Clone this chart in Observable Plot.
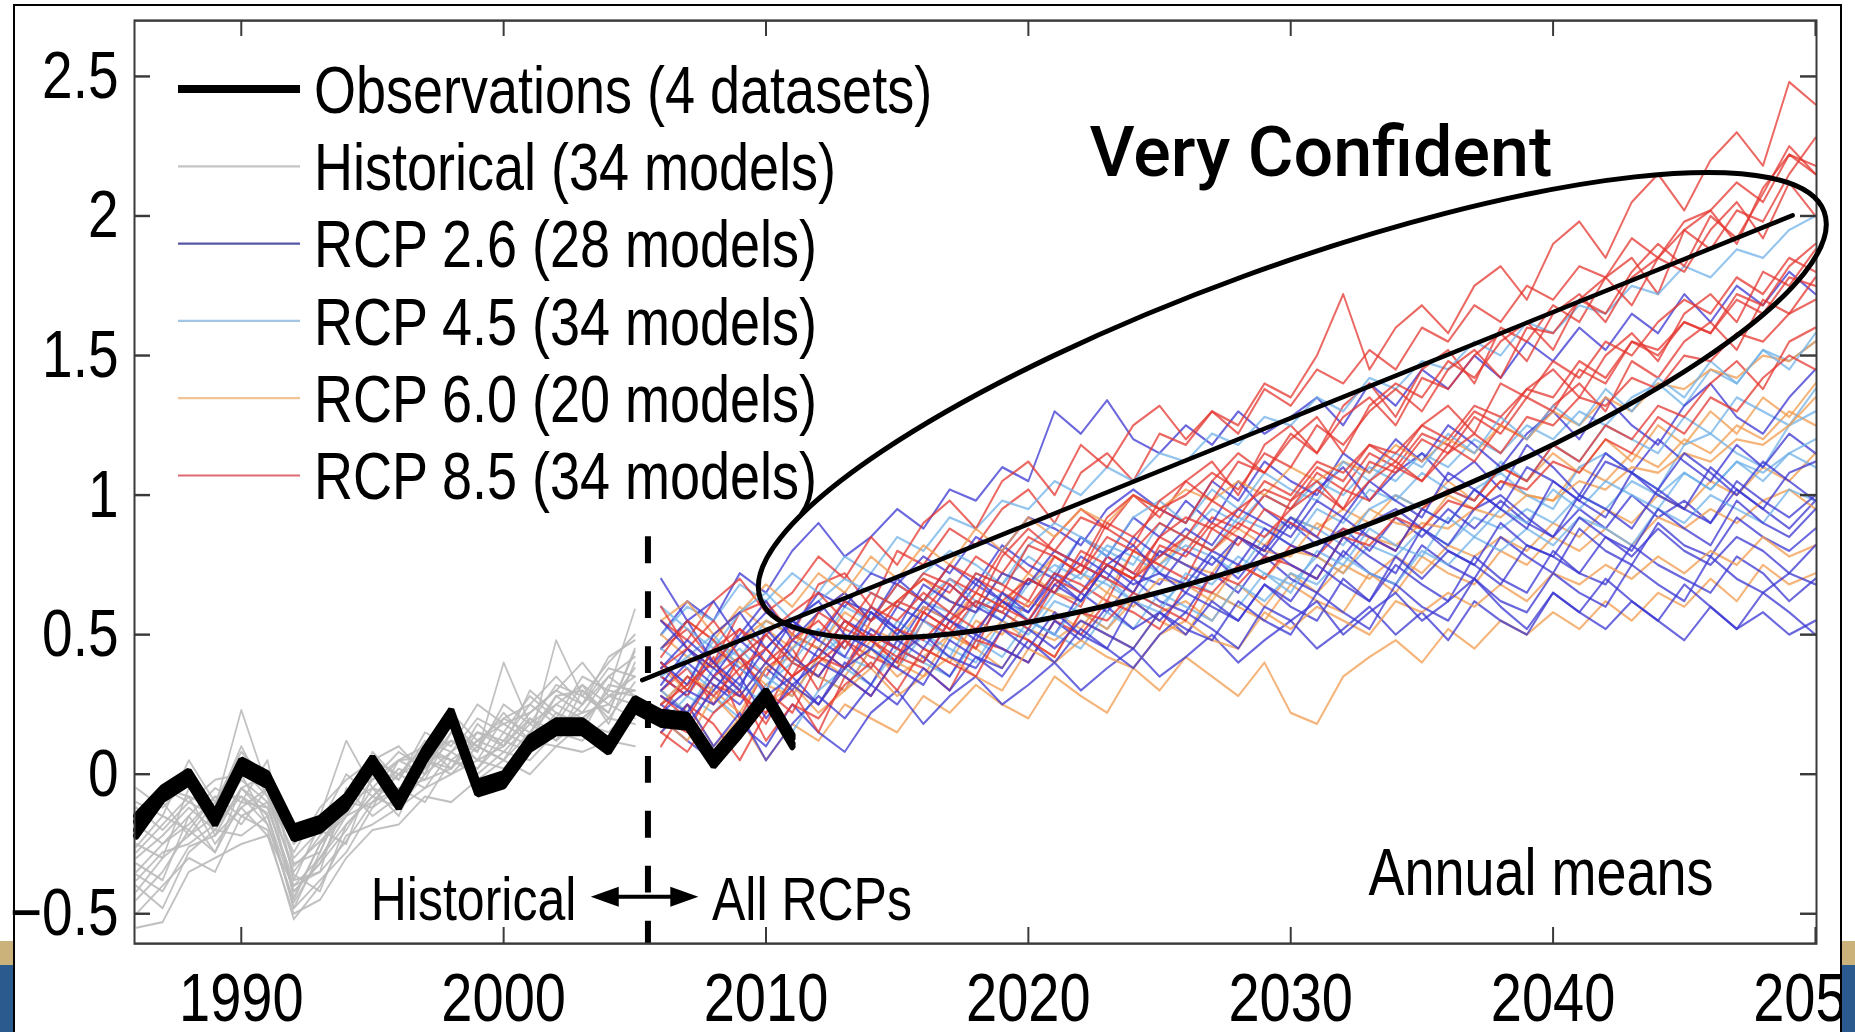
<!DOCTYPE html>
<html><head><meta charset="utf-8">
<script src="https://cdn.jsdelivr.net/npm/d3@7"></script>
<script src="https://cdn.jsdelivr.net/npm/@observablehq/plot@0.6"></script>
<style>
html,body{margin:0;padding:0;background:#fff;}
body{width:1855px;height:1032px;position:relative;overflow:hidden;font-family:"Liberation Sans",Arial,sans-serif;}
.band{position:absolute;}
#frame{position:absolute;left:13px;top:4px;width:1829px;height:1028px;background:#fff;box-sizing:border-box;border-left:2px solid #000;border-top:2px solid #000;border-right:2px solid #000;}
#chart{position:absolute;left:-15px;top:-6px;}
#overlay{position:absolute;left:0;top:0;pointer-events:none;}
</style></head><body>
<div class="band" style="left:0;top:941px;width:1855px;height:24px;background:#cbb27a"></div>
<div class="band" style="left:0;top:965px;width:1855px;height:67px;background:#2b5b8e"></div>
<div id="frame"><div id="chart"></div></div>
<div class="band" style="left:1842px;top:0;width:13px;height:941px;background:#fff"></div>
<div class="band" style="left:1842px;top:941px;width:13px;height:24px;background:#cbb27a"></div>
<div class="band" style="left:1842px;top:965px;width:13px;height:67px;background:#2b5b8e"></div>
<svg id="overlay" width="1855" height="1032"></svg>
<script>
// ---------- data ----------
const xTicks = [1990, 2000, 2010, 2020, 2030, 2040, 2050];
const yTicks = [-0.5, 0, 0.5, 1, 1.5, 2, 2.5];
const obsStart = 1986, histStart = 1986, rcpStart = 2006;

const obs = [
  [-0.20,-0.08,-0.02,-0.17,0.02,-0.03,-0.22,-0.19,-0.11,0.03,-0.11,0.06,0.20,-0.06,-0.03,0.10,0.16,0.16,0.09,0.24,0.19,0.18,0.04,0.15,0.27,0.11],
  [-0.17,-0.06,0.00,-0.15,0.04,-0.01,-0.20,-0.17,-0.09,0.05,-0.09,0.08,0.22,-0.04,-0.01,0.12,0.18,0.18,0.11,0.26,0.21,0.20,0.06,0.17,0.29,0.13],
  [-0.22,-0.09,-0.03,-0.18,0.01,-0.04,-0.23,-0.20,-0.12,0.02,-0.12,0.05,0.19,-0.07,-0.04,0.09,0.15,0.15,0.08,0.23,0.18,0.17,0.03,0.14,0.26,0.10],
  [-0.15,-0.05,0.01,-0.14,0.05,0.00,-0.19,-0.16,-0.08,0.06,-0.08,0.09,0.23,-0.03,0.00,0.13,0.19,0.19,0.12,0.27,0.22,0.21,0.07,0.18,0.30,0.14]
];

const historical = [
  [-0.30,-0.22,-0.12,-0.20,-0.05,-0.12,-0.40,-0.30,-0.18,-0.08,0.00,-0.05,0.08,0.02,0.15,0.10,0.22,0.18,0.30,0.28],
  [-0.15,-0.05,-0.10,-0.02,0.00,-0.18,-0.45,-0.25,-0.10,-0.12,0.05,0.10,0.02,0.15,0.12,0.25,0.18,0.32,0.25,0.38],
  [-0.45,-0.35,-0.20,-0.28,-0.10,0.05,-0.38,-0.35,-0.05,-0.15,-0.08,0.08,0.12,0.05,0.20,0.15,0.28,0.22,0.35,0.42],
  [-0.25,-0.30,-0.05,-0.12,0.23,-0.05,-0.30,-0.20,-0.25,0.00,-0.10,0.02,0.15,0.10,0.05,0.20,0.12,0.30,0.20,0.33],
  [-0.50,-0.40,-0.30,-0.35,-0.15,-0.20,-0.52,-0.40,-0.22,-0.18,-0.12,-0.05,0.00,0.05,0.02,0.12,0.10,0.18,0.15,0.25],
  [-0.10,-0.15,0.05,-0.10,0.08,-0.02,-0.25,-0.15,0.12,-0.05,0.05,0.00,0.18,0.08,0.40,0.18,0.25,0.20,0.28,0.30],
  [-0.35,-0.25,-0.18,-0.08,-0.15,-0.10,-0.42,-0.32,-0.20,-0.05,-0.15,0.05,0.02,0.18,0.10,0.22,0.30,0.25,0.38,0.35],
  [-0.20,-0.10,-0.22,-0.15,0.02,-0.08,-0.35,-0.22,-0.12,0.05,0.00,0.10,0.05,0.12,0.18,0.12,0.48,0.28,0.22,0.45],
  [-0.40,-0.48,-0.28,-0.20,-0.22,-0.15,-0.48,-0.38,-0.28,-0.12,-0.05,-0.10,0.05,0.00,0.08,0.05,0.15,0.12,0.20,0.18],
  [-0.05,-0.12,-0.02,-0.22,-0.05,0.00,-0.32,-0.28,-0.08,0.02,-0.02,0.12,0.08,0.20,0.15,0.28,0.20,0.35,0.30,0.59],
  [-0.28,-0.18,-0.08,-0.25,-0.12,-0.05,-0.44,-0.25,-0.15,-0.02,0.08,0.02,0.12,0.08,0.25,0.18,0.32,0.28,0.40,0.50],
  [-0.55,-0.53,-0.35,-0.30,-0.25,-0.22,-0.50,-0.45,-0.30,-0.20,-0.18,-0.08,-0.10,-0.02,0.05,0.00,0.10,0.08,0.12,0.10],
  [-0.18,-0.25,-0.15,-0.05,-0.10,-0.12,-0.38,-0.18,0.00,-0.08,0.02,-0.02,0.15,0.05,0.10,0.30,0.22,0.15,0.32,0.30],
  [-0.38,-0.28,-0.25,-0.18,-0.08,-0.18,-0.46,-0.30,-0.15,-0.10,0.00,0.05,0.00,0.10,0.05,0.15,0.25,0.32,0.18,0.40],
  [-0.22,-0.05,-0.08,-0.12,0.10,-0.08,-0.28,-0.12,-0.02,0.05,0.10,0.00,0.22,0.12,0.20,0.25,0.35,0.25,0.42,0.48],
  [-0.32,-0.38,-0.15,-0.28,-0.05,-0.15,-0.42,-0.32,-0.10,-0.05,-0.08,0.08,0.05,0.02,0.12,0.08,0.18,0.22,0.25,0.20],
  [-0.12,-0.20,-0.10,-0.15,-0.02,-0.10,-0.33,-0.24,-0.14,0.08,-0.02,0.15,0.10,0.25,0.18,0.22,0.30,0.40,0.28,0.35],
  [-0.42,-0.30,-0.22,-0.10,-0.18,-0.05,-0.36,-0.42,-0.18,-0.08,-0.12,0.00,0.08,0.15,0.10,0.20,0.15,0.25,0.35,0.28],
  [-0.26,-0.15,-0.20,-0.08,-0.08,-0.14,-0.48,-0.28,-0.06,-0.02,0.05,0.06,0.18,0.10,0.22,0.12,0.28,0.30,0.22,0.44],
  [-0.36,-0.42,-0.26,-0.22,-0.12,-0.22,-0.40,-0.35,-0.24,-0.10,-0.05,-0.02,0.02,0.12,0.08,0.18,0.12,0.20,0.28,0.25]
];

const rcp85 = [
  [0.45,0.52,0.40,0.58,0.62,0.50,0.68,0.72,0.60,0.80, 0.75,0.88,0.82,0.95,1.02,0.90,1.08,1.15,1.05,1.22, 1.18,1.30,1.25,1.40,1.35,1.50,1.72,1.45,1.60,1.68, 1.58,1.75,1.82,1.70,1.90,1.98,1.85,2.05,2.15,2.02, 2.20,2.30,2.18,2.48,2.40],
  [0.30,0.38,0.25,0.42,0.35,0.50,0.45,0.38,0.55,0.62, 0.58,0.70,0.65,0.80,0.72,0.85,0.95,0.88,1.00,0.92, 1.05,1.12,1.00,1.18,1.25,1.15,1.32,1.40,1.28,1.45, 1.52,1.40,1.60,1.55,1.68,1.62,1.78,1.85,1.72,1.95, 2.02,1.90,2.10,2.22,2.15],
  [0.20,0.15,0.32,0.28,0.22,0.40,0.35,0.48,0.42,0.38, 0.55,0.50,0.62,0.58,0.70,0.65,0.60,0.78,0.72,0.85, 0.80,0.92,0.88,1.00,0.95,1.08,1.02,1.15,1.10,1.22, 1.18,1.30,1.25,1.38,1.45,1.35,1.50,1.58,1.48,1.65, 1.72,1.62,1.80,1.75,1.88],
  [0.55,0.48,0.62,0.70,0.58,0.65,0.78,0.70,0.85,0.75, 0.90,0.98,0.88,1.05,1.12,1.00,1.18,1.10,1.25,1.32, 1.20,1.30,1.22,1.38,1.32,1.45,1.40,1.52,1.45,1.60, 1.55,1.68,1.62,1.75,1.70,1.82,1.78,1.92,1.85,1.98, 2.02,2.12,2.05,2.22,2.18],
  [0.35,0.28,0.42,0.20,0.38,0.45,0.30,0.52,0.48,0.40, 0.58,0.52,0.45,0.65,0.60,0.72,0.68,0.62,0.80,0.75, 0.70,0.88,0.82,0.95,0.90,0.85,1.02,0.98,1.10,1.05, 1.18,1.12,1.25,1.20,1.32,1.40,1.30,1.48,1.42,1.55, 1.62,1.52,1.70,1.65,1.78],
  [0.10,0.25,0.18,0.05,0.22,0.30,0.15,0.35,0.28,0.42, 0.38,0.30,0.48,0.45,0.40,0.55,0.50,0.62,0.58,0.52, 0.68,0.65,0.75,0.70,0.82,0.78,0.88,0.85,0.80,0.95, 1.02,0.98,1.10,1.05,1.18,1.12,1.25,1.20,1.32,1.28, 1.40,1.48,1.38,1.55,1.60],
  [0.42,0.55,0.48,0.35,0.50,0.58,0.65,0.55,0.48,0.62, 0.70,0.65,0.78,0.72,0.85,0.80,0.92,0.88,0.82,0.98, 1.05,0.98,1.12,1.08,1.20,1.28,1.15,1.32,1.40,1.35, 1.48,1.42,1.55,1.62,1.52,1.70,1.78,1.68,1.85,1.80, 1.95,2.05,1.92,2.12,2.00],
  [0.25,0.32,0.40,0.30,0.18,0.35,0.42,0.38,0.50,0.45, 0.40,0.55,0.62,0.58,0.52,0.68,0.75,0.70,0.65,0.82, 0.78,0.90,0.85,0.80,0.98,1.05,0.95,1.12,1.08,1.20, 1.15,1.28,1.22,1.35,1.30,1.45,1.40,1.55,1.50,1.62, 1.58,1.72,1.68,1.82,1.90],
  [0.60,0.45,0.38,0.52,0.45,0.35,0.50,0.62,0.55,0.68, 0.62,0.75,0.70,0.65,0.82,0.78,0.72,0.90,0.85,0.95, 1.00,1.08,1.02,1.15,1.10,1.25,1.18,1.30,1.38,1.30, 1.45,1.52,1.42,1.60,1.58,1.70,1.65,1.80,1.90,1.82, 2.00,1.92,2.08,2.25,2.15],
  [0.15,0.08,0.22,0.30,0.12,0.25,0.20,0.32,0.40,0.30, 0.45,0.40,0.35,0.52,0.48,0.42,0.58,0.55,0.65,0.60, 0.55,0.72,0.68,0.78,0.75,0.70,0.85,0.82,0.92,0.88, 0.98,0.95,1.05,1.02,1.12,1.08,1.20,1.15,1.28,1.22, 1.35,1.30,1.42,1.50,1.45],
  [0.38,0.45,0.55,0.42,0.50,0.40,0.58,0.52,0.65,0.60, 0.72,0.68,0.60,0.78,0.88,0.80,0.75,0.92,1.00,0.95, 0.90,1.05,1.15,1.08,1.22,1.15,1.28,1.35,1.25,1.42, 1.38,1.50,1.58,1.48,1.65,1.72,1.62,1.78,1.85,1.95, 1.88,2.02,1.98,2.15,2.28],
  [0.28,0.20,0.35,0.42,0.30,0.22,0.40,0.48,0.38,0.52, 0.48,0.58,0.52,0.62,0.70,0.65,0.80,0.75,0.70,0.85, 0.92,0.88,0.95,1.02,0.98,1.10,1.05,1.18,1.12,1.25, 1.32,1.22,1.40,1.35,1.48,1.42,1.55,1.50,1.62,1.70, 1.65,1.78,1.72,1.85,1.80],
  [0.40,0.30,0.45,0.52,0.40,0.48,0.55,0.45,0.60,0.55, 0.65,0.58,0.72,0.68,0.62,0.78,0.72,0.85,0.80,0.90, 0.85,0.98,0.92,1.05,1.00,1.12,1.08,1.18,1.15,1.25, 1.20,1.32,1.28,1.38,1.35,1.48,1.42,1.55,1.52,1.62, 1.58,1.70,1.65,1.78,1.75],
  [0.22,0.35,0.28,0.38,0.45,0.35,0.42,0.55,0.48,0.42, 0.58,0.52,0.65,0.60,0.55,0.70,0.65,0.75,0.70,0.78, 0.85,0.80,0.90,0.85,0.95,1.02,0.95,1.05,1.12,1.05, 1.15,1.22,1.15,1.28,1.25,1.35,1.32,1.42,1.38,1.50, 1.48,1.58,1.55,1.65,1.70]
];

const rcp26 = [
  [0.50,0.62,0.55,0.72,0.65,0.80,0.90,0.78,0.85,0.95, 0.88,1.02,0.98,1.10,1.05,1.30,1.22,1.34,1.20,1.15, 1.25,1.18,1.30,1.22,1.28,1.35,1.25,1.40,1.32,1.45, 1.38,1.50,1.42,1.55,1.48,1.60,1.52,1.65,1.58,1.72, 1.62,1.75,1.68,1.80,1.72],
  [0.35,0.28,0.45,0.38,0.30,0.48,0.42,0.55,0.50,0.45, 0.60,0.55,0.68,0.62,0.58,0.72,0.65,0.78,0.72,0.68, 0.80,0.75,0.85,0.78,0.90,0.82,0.88,0.80,0.92,0.85, 0.95,0.88,0.98,0.90,0.85,0.95,0.88,1.00,0.92,0.98, 0.90,1.02,0.95,0.88,0.98],
  [0.20,0.12,0.05,0.18,0.10,0.25,0.15,0.08,0.22,0.30, 0.18,0.28,0.35,0.25,0.32,0.40,0.30,0.38,0.45,0.35, 0.42,0.50,0.40,0.48,0.55,0.45,0.52,0.60,0.50,0.58, 0.48,0.62,0.55,0.50,0.65,0.58,0.52,0.62,0.55,0.68, 0.60,0.52,0.65,0.58,0.50],
  [0.45,0.55,0.40,0.50,0.62,0.48,0.58,0.65,0.55,0.70, 0.62,0.75,0.68,0.82,0.75,0.70,0.85,0.78,0.92,0.85, 0.98,0.90,1.05,0.95,0.88,1.02,1.10,0.98,1.08,1.15, 1.05,1.12,1.02,1.18,1.10,1.00,1.15,1.08,1.20,1.12, 1.05,1.18,1.10,1.22,1.15],
  [0.30,0.40,0.32,0.25,0.38,0.30,0.45,0.38,0.52,0.45, 0.40,0.55,0.48,0.62,0.55,0.50,0.65,0.58,0.70,0.62, 0.58,0.72,0.65,0.78,0.70,0.65,0.80,0.72,0.68,0.82, 0.75,0.70,0.85,0.78,0.72,0.88,0.80,0.75,0.90,0.82, 0.78,0.92,0.85,0.80,0.88],
  [0.70,0.55,0.62,0.48,0.58,0.52,0.65,0.60,0.72,0.68, 0.78,0.72,0.85,0.80,0.92,0.88,0.82,0.95,1.02,0.95, 0.90,1.05,0.98,1.12,1.05,1.00,1.15,1.08,1.20,1.12, 1.25,1.18,1.10,1.22,1.30,1.20,1.35,1.25,1.18,1.32, 1.40,1.28,1.22,1.35,1.45],
  [0.25,0.18,0.30,0.42,0.28,0.35,0.25,0.40,0.32,0.48, 0.42,0.35,0.50,0.45,0.40,0.55,0.48,0.60,0.52,0.58, 0.50,0.62,0.55,0.68,0.60,0.55,0.70,0.62,0.75,0.68, 0.62,0.78,0.70,0.65,0.80,0.72,0.68,0.82,0.75,0.70, 0.65,0.78,0.72,0.62,0.70],
  [0.40,0.32,0.50,0.58,0.45,0.55,0.48,0.62,0.58,0.52, 0.68,0.62,0.58,0.72,0.68,0.80,0.75,0.70,0.85,0.78, 0.88,0.82,0.95,0.90,0.85,0.98,0.92,1.05,0.98,0.92, 1.08,1.02,0.95,1.10,1.05,0.98,1.12,1.08,1.02,1.15, 1.08,1.00,1.12,1.05,0.98],
  [0.15,0.25,0.10,0.22,0.05,0.18,0.28,0.20,0.32,0.25, 0.38,0.30,0.42,0.35,0.48,0.40,0.52,0.45,0.38,0.50, 0.58,0.52,0.45,0.60,0.55,0.62,0.50,0.58,0.65,0.55, 0.62,0.70,0.60,0.52,0.65,0.58,0.70,0.62,0.55,0.48, 0.60,0.52,0.58,0.50,0.55],
  [0.55,0.45,0.35,0.48,0.40,0.55,0.62,0.50,0.45,0.60, 0.55,0.68,0.60,0.55,0.70,0.65,0.78,0.72,0.65,0.80, 0.75,0.70,0.85,0.80,0.92,0.85,0.78,0.90,0.95,0.88, 0.82,0.95,1.00,0.92,0.85,1.00,0.95,0.88,1.02,0.95, 0.90,1.05,0.98,0.92,1.00],
  [0.32,0.45,0.38,0.30,0.52,0.42,0.35,0.48,0.60,0.52, 0.45,0.58,0.70,0.62,0.55,0.68,0.62,0.75,0.82,0.72, 0.68,0.80,0.75,0.88,0.82,0.78,0.92,0.85,0.80,0.95, 0.90,1.02,0.95,0.88,1.05,0.98,0.92,1.08,1.00,0.95, 1.10,1.02,0.95,1.08,1.12],
  [0.22,0.30,0.25,0.35,0.20,0.32,0.40,0.35,0.28,0.42, 0.50,0.42,0.38,0.52,0.45,0.58,0.50,0.45,0.62,0.55, 0.65,0.60,0.55,0.68,0.62,0.75,0.68,0.62,0.78,0.70, 0.80,0.75,0.68,0.82,0.78,0.72,0.85,0.78,0.88,0.80, 0.75,0.85,0.80,0.72,0.82],
  [0.38,0.48,0.40,0.32,0.45,0.55,0.48,0.42,0.58,0.50, 0.62,0.55,0.50,0.65,0.58,0.70,0.62,0.75,0.68,0.72, 0.65,0.78,0.70,0.82,0.75,0.70,0.85,0.78,0.72,0.88, 0.80,0.75,0.90,0.82,0.78,0.92,0.85,0.80,0.95,0.88, 0.82,0.98,0.90,0.85,0.95],
  [0.28,0.22,0.35,0.28,0.40,0.32,0.25,0.38,0.45,0.38, 0.32,0.48,0.42,0.38,0.52,0.45,0.55,0.50,0.45,0.58, 0.52,0.48,0.62,0.55,0.50,0.65,0.58,0.52,0.68,0.60, 0.55,0.70,0.62,0.58,0.72,0.65,0.60,0.75,0.68,0.62, 0.78,0.70,0.65,0.72,0.68]
];

const rcp45 = [
  [0.40,0.32,0.48,0.42,0.55,0.50,0.45,0.60,0.55,0.68, 0.62,0.58,0.72,0.68,0.78,0.72,0.85,0.80,0.75,0.90, 0.85,0.95,0.90,1.00,0.95,1.05,1.00,1.10,1.05,1.15, 1.10,1.20,1.15,1.25,1.20,1.30,1.25,1.35,1.40,1.32, 1.45,1.40,1.52,1.48,1.55],
  [0.25,0.35,0.28,0.20,0.32,0.40,0.35,0.30,0.45,0.38, 0.50,0.45,0.40,0.55,0.50,0.62,0.58,0.52,0.65,0.60, 0.70,0.65,0.60,0.72,0.68,0.78,0.72,0.82,0.78,0.88, 0.82,0.92,0.88,0.95,0.90,1.00,0.95,1.05,1.00,1.08, 1.02,1.12,1.08,1.15,1.10],
  [0.50,0.60,0.55,0.68,0.62,0.72,0.65,0.78,0.72,0.85, 0.80,0.92,0.88,0.98,0.95,1.05,1.00,1.10,1.05,1.15, 1.12,1.22,1.18,1.28,1.25,1.35,1.30,1.42,1.38,1.48, 1.45,1.55,1.50,1.62,1.58,1.68,1.65,1.75,1.72,1.82, 1.78,1.88,1.85,1.95,2.00],
  [0.30,0.22,0.38,0.45,0.35,0.28,0.42,0.50,0.45,0.40, 0.55,0.48,0.62,0.58,0.52,0.65,0.72,0.68,0.62,0.75, 0.82,0.78,0.72,0.85,0.92,0.88,0.82,0.95,1.00,0.95, 0.90,1.02,1.08,1.00,0.95,1.10,1.15,1.08,1.02,1.18, 1.22,1.15,1.10,1.25,1.30],
  [0.45,0.38,0.30,0.42,0.50,0.40,0.52,0.45,0.58,0.50, 0.62,0.70,0.62,0.55,0.68,0.75,0.70,0.82,0.78,0.72, 0.85,0.80,0.92,0.88,0.82,0.95,0.90,1.02,0.98,1.08, 1.02,0.98,1.12,1.05,1.18,1.12,1.25,1.20,1.15,1.28, 1.22,1.35,1.30,1.25,1.38],
  [0.18,0.28,0.22,0.32,0.25,0.15,0.30,0.38,0.32,0.45, 0.40,0.35,0.48,0.42,0.55,0.50,0.45,0.58,0.52,0.65, 0.60,0.55,0.68,0.62,0.72,0.68,0.78,0.72,0.68,0.80, 0.75,0.85,0.80,0.88,0.82,0.92,0.88,0.82,0.95,0.90, 1.00,0.95,0.90,1.02,0.98],
  [0.60,0.52,0.45,0.58,0.65,0.55,0.62,0.70,0.65,0.60, 0.72,0.80,0.75,0.68,0.82,0.90,0.85,0.78,0.92,0.98, 0.90,1.02,0.95,1.08,1.02,0.98,1.12,1.05,1.15,1.10, 1.22,1.15,1.28,1.20,1.32,1.25,1.38,1.30,1.42,1.35, 1.48,1.40,1.52,1.45,1.58],
  [0.35,0.42,0.50,0.38,0.30,0.45,0.52,0.42,0.38,0.55, 0.48,0.42,0.58,0.65,0.55,0.50,0.62,0.70,0.62,0.58, 0.72,0.68,0.78,0.72,0.65,0.80,0.75,0.88,0.82,0.78, 0.92,0.85,0.95,0.90,1.02,0.95,1.05,1.00,0.95,1.08, 1.02,1.12,1.05,1.15,1.20]
];

const rcp60 = [
  [0.30,0.22,0.35,0.28,0.40,0.32,0.25,0.38,0.45,0.35, 0.42,0.50,0.45,0.38,0.52,0.48,0.55,0.50,0.45,0.58, 0.62,0.55,0.68,0.60,0.72,0.65,0.75,0.70,0.78,0.72, 0.82,0.78,0.85,0.80,0.90,0.85,0.95,0.90,1.00,0.95, 1.05,1.00,1.10,1.05,1.15],
  [0.45,0.55,0.48,0.60,0.52,0.45,0.58,0.65,0.55,0.62, 0.70,0.62,0.58,0.72,0.68,0.78,0.72,0.65,0.80,0.75, 0.85,0.80,0.88,0.82,0.92,0.88,0.95,0.90,1.00,0.95, 1.05,0.98,1.10,1.05,1.15,1.08,1.20,1.12,1.25,1.18, 1.30,1.22,1.35,1.28,1.40],
  [0.15,0.25,0.10,0.20,0.05,0.18,0.12,0.25,0.20,0.15, 0.28,0.22,0.32,0.25,0.20,0.35,0.28,0.22,0.38,0.30, 0.42,0.35,0.28,0.40,0.22,0.18,0.35,0.42,0.48,0.40, 0.52,0.45,0.55,0.50,0.58,0.52,0.62,0.55,0.65,0.60, 0.70,0.62,0.75,0.68,0.72],
  [0.50,0.42,0.38,0.48,0.55,0.50,0.45,0.58,0.52,0.48, 0.60,0.55,0.65,0.60,0.72,0.65,0.62,0.75,0.70,0.80, 0.75,0.72,0.85,0.80,0.78,0.90,0.85,0.95,0.90,0.88, 1.00,0.95,1.05,1.00,0.98,1.10,1.05,1.15,1.10,1.20, 1.15,1.25,1.20,1.30,1.25],
  [0.38,0.30,0.45,0.40,0.32,0.28,0.42,0.35,0.48,0.40, 0.35,0.50,0.45,0.55,0.48,0.42,0.58,0.52,0.62,0.55, 0.50,0.65,0.60,0.55,0.68,0.62,0.58,0.72,0.65,0.78, 0.72,0.68,0.80,0.75,0.85,0.80,0.88,0.82,0.92,0.88, 0.95,0.90,0.98,1.02,0.95],
  [0.25,0.35,0.30,0.22,0.38,0.42,0.35,0.30,0.45,0.52, 0.45,0.40,0.55,0.50,0.62,0.58,0.52,0.65,0.60,0.70, 0.68,0.62,0.75,0.70,0.80,0.78,0.72,0.85,0.82,0.90, 0.88,0.95,0.92,1.00,0.98,1.05,1.02,1.10,1.08,1.15, 1.12,1.20,1.18,1.25,1.35],
  [0.55,0.62,0.50,0.58,0.68,0.60,0.72,0.65,0.78,0.70, 0.82,0.75,0.88,0.80,0.92,0.85,0.95,0.90,1.00,0.95, 1.02,0.98,1.05,1.00,1.10,1.05,1.12,1.08,1.18,1.12, 1.20,1.15,1.25,1.20,1.30,1.25,1.35,1.30,1.40,1.38, 1.45,1.42,1.50,1.48,1.55],
  [0.20,0.12,0.28,0.18,0.25,0.32,0.22,0.30,0.38,0.28, 0.35,0.42,0.35,0.30,0.45,0.40,0.48,0.42,0.38,0.50, 0.55,0.48,0.45,0.58,0.52,0.60,0.55,0.50,0.62,0.58, 0.65,0.60,0.68,0.62,0.72,0.68,0.75,0.70,0.78,0.72, 0.80,0.75,0.85,0.78,0.82]
];

const legendLabels = ["Observations (4 datasets)", "Historical (34 models)", "RCP 2.6 (28 models)", "RCP 4.5 (34 models)", "RCP 6.0 (20 models)", "RCP 8.5 (34 models)"];
const legendColors = ["#000000", "#c4c4c4", "#5656a6", "#a3c6e4", "#f1c496", "#dd6a70"];
const seriesColors = {rcp26: "#3a36d2", rcp45: "#6fb2e8", rcp60: "#f29b4e", rcp85: "#e4352f"};

// ---------- layout ----------
const S = 1.22;                 // vertical stretch of the original picture
const W = 1855, HP = 1032, HV = HP / S;
const xDomain = [1985.93, 2050.04];
const yDomain = [-0.607, 2.70];
const mL = 134, mR = 39, mT = 20 / S, mB = HV - 943 / S;
const innerW = W - mL - mR, innerH = HV - mT - mB;
const tickLen = 16;
const FONT = "'Liberation Sans', Arial, Helvetica, sans-serif";

// interleave scenario runs so that colours mix as in the original
const runs = [];
for (let i = 0; i < 14; i++) {
  if (rcp60[i]) runs.push({v: rcp60[i], c: seriesColors.rcp60});
  if (rcp45[i]) runs.push({v: rcp45[i], c: seriesColors.rcp45});
  if (rcp26[i]) runs.push({v: rcp26[i], c: seriesColors.rcp26});
  if (rcp85[i]) runs.push({v: rcp85[i], c: seriesColors.rcp85});
}

const marks = [];
historical.forEach(v => marks.push(Plot.line(v, {x: (d, i) => histStart + i, y: d => d, stroke: "#bababa", strokeWidth: 1.7, strokeOpacity: 0.9})));
runs.forEach(r => marks.push(Plot.line(r.v, {x: (d, i) => rcpStart + i, y: d => d, stroke: r.c, strokeWidth: 1.9, strokeOpacity: 0.75})));
obs.forEach(v => marks.push(Plot.line(v, {x: (d, i) => obsStart + i, y: d => d, stroke: "#000", strokeWidth: 6.5, strokeLinejoin: "miter"})));
marks.push(Plot.ruleX([2005.5], {y1: 0.85, y2: yDomain[0], stroke: "#000", strokeWidth: 6, strokeDasharray: "22,23"}));

// frame & inward ticks
marks.push(Plot.frame({stroke: "#3a3a3a", strokeWidth: 2}));
marks.push(Plot.ruleX(xTicks, {insetTop: innerH - tickLen / S, stroke: "#3a3a3a", strokeWidth: 2}));
marks.push(Plot.ruleX(xTicks, {insetBottom: innerH - tickLen / S, stroke: "#3a3a3a", strokeWidth: 2}));
marks.push(Plot.ruleY(yTicks, {insetRight: innerW - tickLen, stroke: "#3a3a3a", strokeWidth: 2}));
marks.push(Plot.ruleY(yTicks, {insetLeft: innerW - tickLen, stroke: "#3a3a3a", strokeWidth: 2}));

// axes
marks.push(Plot.axisY(yTicks, {anchor: "left", tickSize: 0, tickPadding: 16, fontSize: 55, label: null,
  tickFormat: d => d < 0 ? "\u2212" + (-d) : String(d)}));
marks.push(Plot.axisX(xTicks, {anchor: "bottom", tickSize: 0, tickPadding: 24, fontSize: 56, label: null,
  tickFormat: d => String(d)}));

// in-figure notes
const notesEnd = [{t: "Historical", x: 2002.77, y: -0.523}];
const notesStart = [{t: "All RCPs", x: 2007.94, y: -0.523}, {t: "Annual means", x: 2032.96, y: -0.434}];
marks.push(Plot.text(notesEnd, {x: "x", y: "y", text: "t", textAnchor: "end", lineAnchor: "bottom", fontSize: 50, fill: "#000"}));
marks.push(Plot.text(notesStart.slice(0, 1), {x: "x", y: "y", text: "t", textAnchor: "start", lineAnchor: "bottom", fontSize: 50, fill: "#000"}));
marks.push(Plot.text(notesStart.slice(1), {x: "x", y: "y", text: "t", textAnchor: "start", lineAnchor: "bottom", fontSize: 54, fill: "#000"}));

const plot = Plot.plot({
  width: W, height: HV,
  marginLeft: mL, marginRight: mR, marginTop: mT, marginBottom: mB,
  x: {domain: xDomain, axis: null},
  y: {domain: yDomain, axis: null},
  style: {fontFamily: FONT, color: "#000", background: "transparent", overflow: "visible"},
  marks
});
plot.setAttribute("viewBox", `0 0 ${W} ${HV}`);
plot.setAttribute("width", W);
plot.setAttribute("height", HP);
plot.setAttribute("preserveAspectRatio", "none");
plot.style.width = W + "px";
plot.style.height = HP + "px";
plot.style.maxWidth = "none";

// legend (inside the stretched picture)
const lg = d3.select(plot).append("g").attr("font-family", FONT).attr("text-anchor", "start");
legendLabels.forEach((lab, i) => {
  const yc = (89 + i * 77.3) / S;
  lg.append("line").attr("x1", 178).attr("x2", 300).attr("y1", yc).attr("y2", yc)
    .attr("stroke", legendColors[i]).attr("stroke-width", i === 0 ? 6.5 : 1.8);
  lg.append("text").attr("x", 314).attr("y", yc).attr("dy", "0.36em").attr("text-anchor", "start")
    .attr("font-size", 54).attr("fill", "#000").text(lab);
});

document.getElementById("chart").appendChild(plot);

// ---------- slide overlay (not stretched) ----------
const xs = plot.scale("x"), ys = plot.scale("y");
const px = v => xs.apply(v), py = v => ys.apply(v) * S;
const ov = d3.select("#overlay");
// trend line
ov.append("line").attr("x1", px(2005.3)).attr("y1", py(0.335)).attr("x2", px(2049.15)).attr("y2", py(2.0))
  .attr("stroke", "#000").attr("stroke-width", 4.5).attr("stroke-linecap", "round");
// ellipse
const ecx = px(2030.08), ecy = py(1.319);
ov.append("ellipse").attr("cx", ecx).attr("cy", ecy).attr("rx", 566).attr("ry", 138)
  .attr("transform", `rotate(-20 ${ecx} ${ecy})`).attr("fill", "none").attr("stroke", "#000").attr("stroke-width", 5);
// label
ov.append("text").attr("x", px(2022.35)).attr("y", py(2.14)).attr("font-family", "Roboto, 'Liberation Sans', Arial, sans-serif")
  .attr("font-weight", 500).attr("font-size", 70).attr("fill", "#000").text("Very Confident");
// double arrow
const ay = py(-0.441), axL = px(2003.34), axR = px(2007.44);
ov.append("line").attr("x1", axL + 20).attr("x2", axR - 20).attr("y1", ay).attr("y2", ay).attr("stroke", "#000").attr("stroke-width", 4);
ov.append("path").attr("d", `M${axL},${ay} L${axL + 28},${ay - 10} L${axL + 28},${ay + 10} Z`).attr("fill", "#000");
ov.append("path").attr("d", `M${axR},${ay} L${axR - 28},${ay - 10} L${axR - 28},${ay + 10} Z`).attr("fill", "#000");
</script>
</body></html>
